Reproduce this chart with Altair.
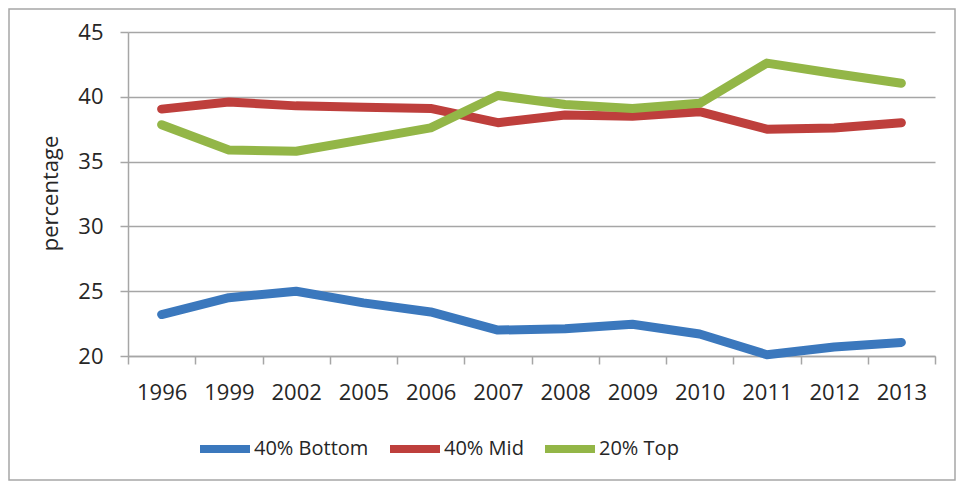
import altair as alt
import pandas as pd

years = ["1996", "1999", "2002", "2005", "2006", "2007", "2008", "2009", "2010", "2011", "2012", "2013"]
series_names = ["40% Bottom", "40% Mid", "20% Top"]
bottom = [23.2, 24.5, 25.0, 24.1, 23.4, 22.0, 22.1, 22.45, 21.7, 20.1, 20.7, 21.05]
mid = [39.05, 39.6, 39.3, 39.2, 39.1, 38.0, 38.6, 38.5, 38.85, 37.5, 37.6, 38.0]
top = [37.85, 35.9, 35.8, 36.7, 37.6, 40.1, 39.4, 39.1, 39.5, 42.6, 41.8, 41.05]
colors = ["#3B78BD", "#BE3F3C", "#93B647"]
y_ticks = [20, 25, 30, 35, 40, 45]

rows = []
for name, vals in zip(series_names, [bottom, mid, top]):
    for i, (yr, v) in enumerate(zip(years, vals)):
        rows.append({"year": yr, "value": v, "series": name})
df = pd.DataFrame(rows)

FONT = "Open Sans"
GRAY = "#A6A6A6"
TEXT = "#262626"

lines = alt.Chart(df).mark_line(strokeWidth=9, strokeCap="round", strokeJoin="round").encode(
    x=alt.X("year:O", sort=years,
            scale=alt.Scale(type="band", paddingInner=0, paddingOuter=0),
            axis=alt.Axis(title=None, labelAngle=0, tickBand="extent", grid=False,
                          domainColor=GRAY, domainWidth=1.5, tickColor=GRAY, tickWidth=1.5,
                          tickSize=8, labelPadding=18, labelFont=FONT, labelFontSize=22,
                          labelColor=TEXT)),
    y=alt.Y("value:Q", scale=alt.Scale(domain=[20, 45], nice=False, zero=False),
            axis=alt.Axis(title="percentage", values=y_ticks, grid=True, gridColor=GRAY,
                          gridWidth=1.5, domainColor=GRAY, domainWidth=1.5, tickColor=GRAY,
                          tickWidth=1.5, tickSize=8, labelPadding=17, labelFont=FONT,
                          labelFontSize=22, labelColor=TEXT, titleFont=FONT, titleFontSize=22,
                          titleFontWeight="normal", titleColor=TEXT, titleAngle=-90,
                          titleX=-71, titleY=161, titleAlign="center",
                          titleBaseline="alphabetic")),
    color=alt.Color("series:N", scale=alt.Scale(domain=series_names, range=colors),
                    legend=alt.Legend(title=None, orient="none", direction="horizontal",
                                      legendX=54, legendY=388, padding=0,
                                      symbolType="stroke", symbolSize=2500,
                                      symbolStrokeWidth=8, symbolOffset=14,
                                      labelOffset=0, columnPadding=3,
                                      labelFont=FONT, labelFontSize=20, labelColor=TEXT)),
    order=alt.Order("series_order:Q"),
).transform_calculate(
    series_order="indexof(['40% Bottom','40% Mid','20% Top'], datum.series)"
)

border = alt.Chart(alt.Data(values=[{}])).mark_rect(
    fill=None, stroke=GRAY, strokeWidth=1.5
).encode(
    x=alt.value(-119), x2=alt.value(827), y=alt.value(-23), y2=alt.value(448)
)

chart = alt.layer(border, lines).properties(
    width=807, height=324,
    autosize=alt.AutoSizeParams(type="none"),
    padding={"left": 120, "top": 24, "right": 21, "bottom": 125},
).configure_view(stroke=None)

chart.save("out.html", embed_options={"renderer": "svg", "actions": False})
